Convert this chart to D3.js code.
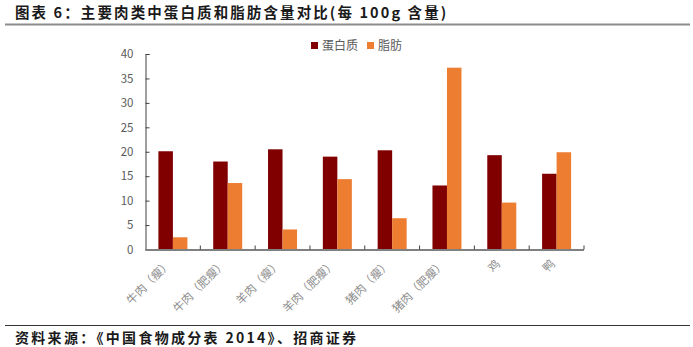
<!DOCTYPE html>
<html>
<head>
<meta charset="utf-8">
<script src="https://cdn.jsdelivr.net/npm/d3@7"></script>
<style>
  body { margin: 0; background: #fff; }
  svg { display: block; }
</style>
</head>
<body>
<svg id="chart" width="693" height="347"></svg>
<script>
// 每100g肉类的蛋白质与脂肪含量（克）
const categories = ["牛肉（瘦）", "牛肉（肥瘦）", "羊肉（瘦）", "羊肉（肥瘦）", "猪肉（瘦）", "猪肉（肥瘦）", "鸡", "鸭"];
const protein = [20.1, 18.0, 20.5, 19.0, 20.3, 13.1, 19.3, 15.5];
const fat = [2.5, 13.6, 4.1, 14.4, 6.4, 37.2, 9.6, 19.9];
const seriesNames = ["蛋白质", "脂肪"];
const yTicks = [0, 5, 10, 15, 20, 25, 30, 35, 40];

const colors = ["#800000", "#ED7D31"];
const font = "'Noto Sans CJK SC', 'Noto Sans', sans-serif";

const svg = d3.select("#chart");

// 标题与分隔线
svg.append("text")
  .attr("x", 15).attr("y", 18)
  .attr("font-family", font).attr("font-size", 14.5).attr("font-weight", "bold")
  .attr("letter-spacing", 2.1)
  .attr("fill", "#1a1a1a")
  .text("图表 6：主要肉类中蛋白质和脂肪含量对比(每 100g 含量)");
svg.append("line")
  .attr("x1", 5).attr("x2", 690).attr("y1", 24.5).attr("y2", 24.5)
  .attr("stroke", "#8c8c8c").attr("stroke-width", 2);

// 来源
svg.append("line")
  .attr("x1", 5).attr("x2", 690).attr("y1", 325.5).attr("y2", 325.5)
  .attr("stroke", "#333").attr("stroke-width", 1.2);
svg.append("text")
  .attr("x", 15).attr("y", 343)
  .attr("font-family", font).attr("font-size", 14).attr("font-weight", "bold")
  .attr("letter-spacing", 2.3)
  .attr("fill", "#1a1a1a")
  .text("资料来源：《中国食物成分表 2014》、招商证券");

// 绘图区
const x0 = 145.5, x1 = 584, yTop = 54, yBottom = 249.5;

const x = d3.scaleBand().domain(categories).range([x0, x1]).paddingInner(0).paddingOuter(0);
const y = d3.scaleLinear().domain([0, 40]).range([yBottom, yTop]);
const xs = d3.scaleBand().domain(seriesNames).range([0, 29]);
const barOffset = (x.bandwidth() - 29) / 2;

// 柱子
const data = categories.map((c, i) => ({ c, vals: [protein[i], fat[i]] }));
const groups = svg.append("g").selectAll("g").data(data).join("g")
  .attr("transform", d => `translate(${x(d.c) + barOffset},0)`);
groups.selectAll("rect")
  .data(d => d.vals.map((v, j) => ({ v, s: seriesNames[j], j })))
  .join("rect")
  .attr("x", d => xs(d.s))
  .attr("width", xs.bandwidth())
  .attr("y", d => y(d.v))
  .attr("height", d => yBottom - y(d.v))
  .attr("fill", d => colors[d.j]);

// Y轴
const yAxis = d3.axisLeft(y).tickValues(yTicks).tickSize(-4).tickPadding(12);
const gy = svg.append("g").attr("transform", `translate(${x0},0)`).call(yAxis);
gy.select(".domain").attr("stroke", "#404040").attr("stroke-width", 1);
gy.selectAll(".tick line").attr("stroke", "#404040");
gy.selectAll(".tick text")
  .attr("font-family", font).attr("font-size", 11.5).attr("fill", "#595959");

// X轴
svg.append("line")
  .attr("x1", x0).attr("x2", x1).attr("y1", yBottom + 0.5).attr("y2", yBottom + 0.5)
  .attr("stroke", "#808080").attr("stroke-width", 2);
const boundaries = categories.slice(1).map(c => x(c)).concat([x1]);
svg.append("g").selectAll("line").data(boundaries).join("line")
  .attr("x1", d => d).attr("x2", d => d)
  .attr("y1", yBottom).attr("y2", yBottom - 4)
  .attr("stroke", "#404040").attr("stroke-width", 1);

// 类别标签（斜放）
svg.append("g").selectAll("text").data(categories).join("text")
  .attr("transform", d => `translate(${x(d) + x.bandwidth() / 2 - 1},${yBottom + 15}) rotate(-45)`)
  .attr("text-anchor", "end")
  .attr("font-family", font).attr("font-size", 11.5)
  .attr("fill", "#8c8c8c")
  .text(d => d);

// 图例
const legend = svg.append("g").attr("transform", "translate(311,41)");
seriesNames.forEach((n, i) => {
  const g = legend.append("g").attr("transform", `translate(${i * 56},0)`);
  g.append("rect").attr("width", 7).attr("height", 7).attr("y", 1).attr("fill", colors[i]);
  g.append("text").attr("x", 11).attr("y", 8.5)
    .attr("font-family", font).attr("font-size", 12).attr("fill", "#595959")
    .text(n);
});
</script>
</body>
</html>
